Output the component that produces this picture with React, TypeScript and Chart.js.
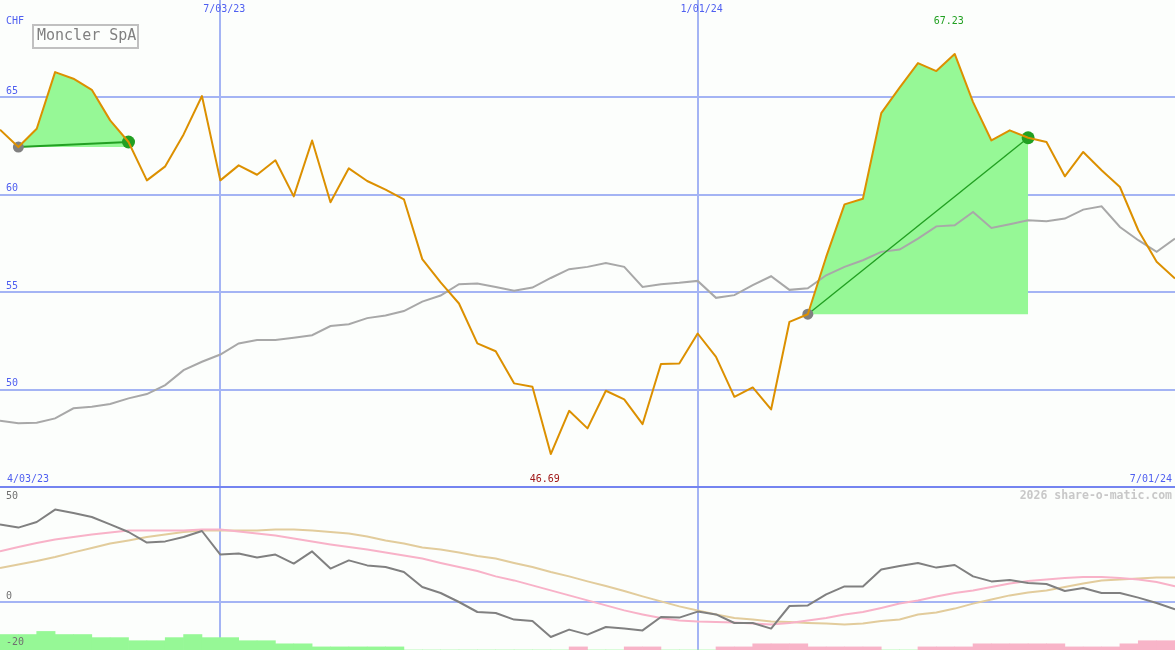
import React, { useEffect, useRef } from 'react';
import { Chart, registerables } from 'chart.js';

Chart.register(...registerables);

// Weekly closing prices in CHF, oldest first
const closePrices = [
  63.34, 62.45, 63.39, 66.30, 65.96, 65.39, 63.82, 62.71, 60.74, 61.46,
  63.10, 65.07, 60.74, 61.51, 61.03, 61.77, 59.92, 62.79, 59.62, 61.36,
  60.71, 60.27, 59.77, 56.70, 55.50, 54.42, 52.37, 51.97, 50.32, 50.15,
  46.69, 48.91, 48.01, 49.94, 49.50, 48.23, 51.31, 51.34, 52.88, 51.68,
  49.63, 50.11, 48.98, 53.48, 53.87, 56.81, 59.51, 59.80, 64.19, 65.50,
  66.76, 66.35, 67.23, 64.76, 62.79, 63.31, 62.93, 62.71, 60.95, 62.20,
  61.26, 60.40, 58.18, 56.56, 55.70,
];

// Long moving average of the close
const movingAvg = [
  48.40, 48.27, 48.30, 48.52, 49.04, 49.12, 49.26, 49.55, 49.77, 50.23,
  51.00, 51.43, 51.80, 52.37, 52.54, 52.55, 52.66, 52.79, 53.26, 53.36,
  53.67, 53.80, 54.03, 54.52, 54.83, 55.41, 55.45, 55.27, 55.07, 55.24,
  55.73, 56.18, 56.30, 56.50, 56.30, 55.27, 55.41, 55.48, 55.58, 54.71,
  54.85, 55.36, 55.82, 55.12, 55.20, 55.87, 56.30, 56.64, 57.07, 57.19,
  57.75, 58.38, 58.44, 59.12, 58.30, 58.49, 58.69, 58.64, 58.78, 59.24,
  59.41, 58.35, 57.67, 57.07, 57.75,
];

// Lower panel: oscillator and its two signal lines
const oscillator = [
  38.7, 37.2, 40.0, 46.2, 44.5, 42.5, 38.8, 35.0, 29.7, 30.3,
  32.5, 35.5, 23.7, 24.2, 22.2, 23.7, 19.2, 25.3, 16.7, 20.8,
  18.3, 17.5, 15.0, 7.5, 4.5, 0.0, -5.0, -5.5, -8.8, -9.5,
  -17.5, -13.8, -16.3, -12.5, -13.3, -14.2, -7.5, -7.8, -4.8, -6.2,
  -10.5, -10.5, -13.3, -2.0, -1.7, 3.8, 7.8, 7.8, 16.2, 18.0,
  19.5, 17.2, 18.5, 12.8, 10.3, 11.0, 9.5, 9.0, 5.5, 7.0,
  4.5, 4.5, 2.2, -0.5, -3.7,
];

const fastSignal = [
  25.3, 27.5, 29.5, 31.2, 32.5, 33.8, 34.8, 35.7, 35.8, 35.8,
  35.8, 36.2, 36.2, 35.3, 34.2, 33.2, 31.7, 30.3, 28.8, 27.5,
  26.2, 24.8, 23.3, 21.7, 19.5, 17.5, 15.5, 12.8, 10.8, 8.3,
  5.8, 3.3, 0.8, -1.7, -4.2, -6.2, -8.0, -9.2, -9.8, -10.0,
  -10.3, -10.8, -11.2, -10.5, -9.2, -8.0, -6.3, -5.0, -3.0, -0.8,
  0.8, 2.8, 4.5, 5.8, 7.5, 9.2, 10.5, 11.3, 12.0, 12.5,
  12.5, 12.0, 11.2, 10.0, 7.8,
];

const slowSignal = [
  17.0, 18.8, 20.5, 22.5, 24.8, 27.0, 29.2, 30.8, 32.5, 33.8,
  35.0, 35.8, 35.8, 35.8, 35.8, 36.2, 36.2, 35.8, 35.0, 34.2,
  32.8, 30.8, 29.2, 27.2, 26.2, 24.7, 23.0, 21.7, 19.5, 17.5,
  15.0, 12.8, 10.3, 8.0, 5.5, 2.8, 0.3, -2.2, -4.2, -6.2,
  -8.0, -8.8, -9.7, -10.0, -10.5, -10.8, -11.2, -10.8, -9.5, -8.7,
  -6.3, -5.3, -3.3, -0.8, 1.2, 3.3, 4.7, 5.8, 7.5, 9.2,
  10.8, 11.3, 11.7, 12.2, 12.3,
];

// Momentum histogram (sign gives the colour, size the bar height)
const histogram = [
  5, 5, 6, 5, 5, 4, 4, 3, 3, 4,
  5, 4, 4, 3, 3, 2, 2, 1, 1, 1,
  1, 1, 0, 0, 0, 0, 0, 0, 0, 0,
  0, -1, 0, 0, -1, -1, 0, 0, 0, -1,
  -1, -2, -2, -2, -1, -1, -1, -1, 0, 0,
  -1, -1, -1, -2, -2, -2, -2, -2, -1, -1,
  -1, -2, -3, -3, -3,
];

const dateTickIndex = [12, 38];
const dateTickLabels = ['7/03/23', '1/01/24'];
const rangeLabels = ['4/03/23', '7/01/24'];
const priceTicks = [65, 60, 55, 50];
const oscTicks = [50, 0, -20];
// Holding periods: [entry week, exit week]
const holdWindows = [[1, 7], [44, 56]];
const companyName = 'Moncler SpA';
const currency = 'CHF';
const watermark = '2026 share-o-matic.com';

const PRICE_MIN = 45;
const PRICE_MAX = 70;
const OSC_MIN = -24;
const OSC_MAX = 58;
const HIST_MAX = 53;

const BG = '#fcfefc';
const GRID = '#a4b4f4';
const SEPARATOR = '#7484f0';
const BLUE_TEXT = '#4f5ff0';
const ORANGE = '#dc9000';
const MA_GRAY = '#a8a8a8';
const FILL_GREEN = '#96f896';
const DARK_GREEN = '#22a022';
const START_GRAY = '#808080';
const OSC_GRAY = '#808080';
const PINK = '#f8b2c8';
const TAN = '#e2cc9c';
const HIST_PINK = '#f8b4c8';
const MIN_RED = '#a01818';
const WATERMARK = '#c8c8c8';
const AXIS_GRAY = '#707070';
const MONO = '"DejaVu Sans Mono", "Liberation Mono", monospace';

const points = (values: number[]) => values.map((y, x) => ({ x, y }));

const makeXScale = () => ({
  type: 'linear' as const,
  min: 0,
  max: closePrices.length - 1,
  bounds: 'data' as const,
  offset: false,
  grid: { color: GRID, lineWidth: 2, drawTicks: false, offset: false },
  border: { display: false },
  ticks: { display: false },
  afterBuildTicks: (s: any) => {
    s.ticks = dateTickIndex.map((v) => ({ value: v }));
  },
});

const baseOptions = {
  animation: false as const,
  responsive: false,
  devicePixelRatio: 1,
  events: [] as any[],
  layout: { padding: 0, autoPadding: false },
  plugins: { legend: { display: false }, tooltip: { enabled: false } },
};

const priceTextPlugin = {
  id: 'priceText',
  afterDraw(chart: any) {
    const { ctx } = chart;
    const x = chart.scales.x;
    const y = chart.scales.y;
    ctx.save();
    ctx.font = `10px ${MONO}`;
    ctx.textBaseline = 'middle';
    ctx.fillStyle = BLUE_TEXT;
    ctx.textAlign = 'left';
    ctx.fillText(currency, 6, 21);
    priceTicks.forEach((v) => ctx.fillText(String(v), 6, y.getPixelForValue(v) - 6));
    ctx.textAlign = 'center';
    dateTickIndex.forEach((i, k) => ctx.fillText(dateTickLabels[k], x.getPixelForValue(i) + 4, 9));
    ctx.textAlign = 'left';
    ctx.fillText(rangeLabels[0], 7, 479);
    ctx.textAlign = 'right';
    ctx.fillText(rangeLabels[1], 1172, 479);

    // lowest and highest close
    const lo = Math.min(...closePrices);
    const hi = Math.max(...closePrices);
    const loIdx = closePrices.indexOf(lo);
    const hiIdx = closePrices.indexOf(hi);
    ctx.textAlign = 'center';
    ctx.fillStyle = MIN_RED;
    ctx.fillText(lo.toFixed(2), x.getPixelForValue(loIdx) - 6, 479);
    ctx.fillStyle = DARK_GREEN;
    ctx.fillText(hi.toFixed(2), x.getPixelForValue(hiIdx) - 6, 21);

    // name box
    ctx.fillStyle = BG;
    ctx.fillRect(33, 25, 105, 23);
    ctx.strokeStyle = '#c0c0c0';
    ctx.lineWidth = 2;
    ctx.strokeRect(33, 25, 105, 23);
    ctx.font = `15px ${MONO}`;
    ctx.fillStyle = '#808080';
    ctx.textAlign = 'left';
    ctx.fillText(companyName, 37, 36.5);
    ctx.restore();
  },
};

const oscTextPlugin = {
  id: 'oscText',
  afterDraw(chart: any) {
    const { ctx, chartArea } = chart;
    const y = chart.scales.y;
    ctx.save();
    ctx.fillStyle = SEPARATOR;
    ctx.fillRect(0, 0, chart.width, 2);
    ctx.font = `10px ${MONO}`;
    ctx.textBaseline = 'middle';
    ctx.textAlign = 'left';
    ctx.fillStyle = AXIS_GRAY;
    oscTicks.forEach((v) => {
      const p = y.getPixelForValue(v);
      ctx.fillText(String(v), 6, p > chartArea.bottom - 12 ? p : p - 6);
    });
    ctx.font = `bold 11.5px ${MONO}`;
    ctx.fillStyle = WATERMARK;
    ctx.textAlign = 'right';
    ctx.fillText(watermark, 1172, 10);
    ctx.restore();
  },
};

export default function App() {
  const topRef = useRef<HTMLCanvasElement>(null);
  const bottomRef = useRef<HTMLCanvasElement>(null);

  useEffect(() => {
    const windowFills = holdWindows.map(([a, b]) => ({
      type: 'line' as const,
      data: closePrices.slice(a, b + 1).map((y, k) => ({ x: a + k, y })),
      fill: { value: closePrices[a] },
      backgroundColor: FILL_GREEN,
      borderWidth: 0,
      pointRadius: 0,
      order: 10,
    }));
    const windowLines = holdWindows.map(([a, b], k) => ({
      type: 'line' as const,
      data: [
        { x: a, y: closePrices[a] },
        { x: b, y: closePrices[b] },
      ],
      borderColor: DARK_GREEN,
      borderWidth: k === 0 ? 2 : 1.4,
      pointRadius: 0,
      fill: false,
      order: 4,
    }));
    const entryMarks = {
      type: 'line' as const,
      data: holdWindows.map(([a]) => ({ x: a, y: closePrices[a] })),
      showLine: false,
      pointRadius: 5.5,
      pointBorderWidth: 0,
      pointBackgroundColor: START_GRAY,
      order: 3,
    };
    const exitMarks = {
      type: 'line' as const,
      data: holdWindows.map(([, b]) => ({ x: b, y: closePrices[b] })),
      showLine: false,
      pointRadius: 6.5,
      pointBorderWidth: 0,
      pointBackgroundColor: DARK_GREEN,
      order: 3,
    };

    const top = new Chart(topRef.current!, {
      type: 'line',
      data: {
        datasets: [
          ...windowFills,
          {
            data: points(movingAvg),
            borderColor: MA_GRAY,
            borderWidth: 2,
            pointRadius: 0,
            fill: false,
            order: 6,
          },
          ...windowLines,
          entryMarks,
          exitMarks,
          {
            data: points(closePrices),
            borderColor: ORANGE,
            borderWidth: 2,
            borderJoinStyle: 'round',
            pointRadius: 0,
            fill: false,
            order: 1,
          },
        ] as any,
      },
      options: {
        ...baseOptions,
        scales: {
          x: makeXScale(),
          y: {
            type: 'linear',
            min: PRICE_MIN,
            max: PRICE_MAX,
            bounds: 'data',
            grid: { color: GRID, lineWidth: 2, drawTicks: false },
            border: { display: false },
            ticks: { display: false },
            afterBuildTicks: (s: any) => {
              s.ticks = priceTicks.map((v) => ({ value: v }));
            },
          },
        } as any,
      } as any,
      plugins: [priceTextPlugin],
    });

    const bottom = new Chart(bottomRef.current!, {
      type: 'line',
      data: {
        datasets: [
          {
            type: 'bar',
            yAxisID: 'yHist',
            data: histogram.map((v, i) => ({ x: i + 0.5, y: Math.abs(v) })),
            backgroundColor: histogram.map((v) => (v >= 0 ? FILL_GREEN : HIST_PINK)),
            borderWidth: 0,
            barPercentage: 1,
            categoryPercentage: 1,
            order: 10,
          },
          {
            data: points(slowSignal),
            borderColor: TAN,
            borderWidth: 2,
            pointRadius: 0,
            fill: false,
            order: 4,
          },
          {
            data: points(fastSignal),
            borderColor: PINK,
            borderWidth: 2,
            pointRadius: 0,
            fill: false,
            order: 3,
          },
          {
            data: points(oscillator),
            borderColor: OSC_GRAY,
            borderWidth: 2,
            borderJoinStyle: 'round',
            pointRadius: 0,
            fill: false,
            order: 1,
          },
        ] as any,
      },
      options: {
        ...baseOptions,
        scales: {
          x: makeXScale(),
          y: {
            type: 'linear',
            min: OSC_MIN,
            max: OSC_MAX,
            bounds: 'data',
            grid: {
              color: (c: any) => (c.tick && c.tick.value === 0 ? GRID : 'rgba(0,0,0,0)'),
              lineWidth: 2,
              drawTicks: false,
            },
            border: { display: false },
            ticks: { display: false },
            afterBuildTicks: (s: any) => {
              s.ticks = oscTicks.map((v) => ({ value: v }));
            },
          },
          yHist: {
            type: 'linear',
            position: 'left',
            min: 0,
            max: HIST_MAX,
            bounds: 'data',
            grid: { display: false, drawTicks: false },
            border: { display: false },
            ticks: { display: false },
          },
        } as any,
      } as any,
      plugins: [oscTextPlugin],
    });

    return () => {
      top.destroy();
      bottom.destroy();
    };
  }, []);

  return (
    <div
      style={{
        position: 'absolute',
        left: 0,
        top: 0,
        width: 1175,
        height: 650,
        background: BG,
        overflow: 'hidden',
      }}
    >
      <canvas ref={topRef} width={1175} height={487} style={{ position: 'absolute', left: 0, top: 0 }} />
      <canvas ref={bottomRef} width={1175} height={164} style={{ position: 'absolute', left: 0, top: 486 }} />
    </div>
  );
}
